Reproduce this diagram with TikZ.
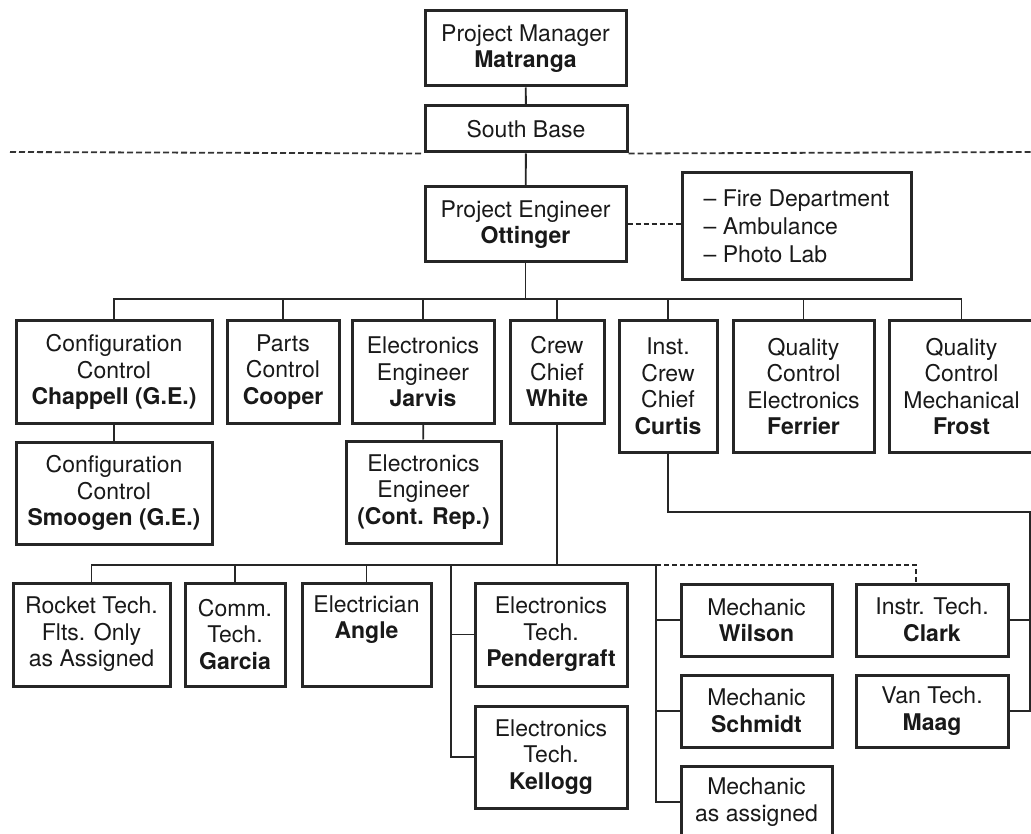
\documentclass[tikz,border=0pt]{standalone}
\usepackage{fontspec}
\setmainfont{TeX Gyre Heros}
\begin{document}
\begin{tikzpicture}[x=1pt,y=-1pt,
  box/.style={draw=black!85, line width=3pt, inner sep=0pt, align=center,
    font=\fontsize{23}{26.5}\selectfont, text=black!90},
  conn/.style={draw=black!85, line width=1.9pt},
  dashconn/.style={draw=black!85, line width=2pt, dash pattern=on 5pt off 3pt},
  divider/.style={draw=black!80, line width=1.8pt, dash pattern=on 6pt off 3pt}]
\fill[white] (0,0) rectangle (1031,834);
\useasboundingbox (0,0) rectangle (1031,834);

% top
\node[box, minimum width=201, minimum height=75] (pm) at (525.5,48.5) {Project Manager\\\textbf{Matranga}};
\node[box, minimum width=202, minimum height=46] (sb) at (526,129) {South Base};
\node[box, minimum width=201, minimum height=75] (pe) at (525.5,224.5) {Project Engineer\\\textbf{Ottinger}};
\node[box, minimum width=229, minimum height=107, align=left, font=\fontsize{23}{28}\selectfont] (fire) at (796.5,226.5) {-- Fire Department\\-- Ambulance\\-- Photo Lab};

% row 1
\node[box, minimum width=196, minimum height=102] (config) at (114,372) {Configuration\\Control\\\textbf{Chappell (G.E.)}};
\node[box, minimum width=112, minimum height=102] (parts) at (283,372) {Parts\\Control\\\textbf{Cooper}};
\node[box, minimum width=142, minimum height=102] (jarvis) at (423,372) {Electronics\\Engineer\\\textbf{Jarvis}};
\node[box, minimum width=94, minimum height=102] (crew) at (557,372) {Crew\\Chief\\\textbf{White}};
\node[box, minimum width=98, minimum height=131] (inst) at (668,386.5) {Inst.\\Crew\\Chief\\\textbf{Curtis}};
\node[box, minimum width=141, minimum height=131] (qce) at (803.5,386.5) {Quality\\Control\\Electronics\\\textbf{Ferrier}};
\node[box, minimum width=145, minimum height=131] (qcm) at (961.5,386.5) {Quality\\Control\\Mechanical\\\textbf{Frost}};

% row 2
\node[box, minimum width=196, minimum height=102] (smoogen) at (114,493) {Configuration\\Control\\\textbf{Smoogen (G.E.)}};
\node[box, minimum width=155, minimum height=102] (contrep) at (423.5,492) {Electronics\\Engineer\\\textbf{(Cont. Rep.)}};

% row 3
\node[box, minimum width=157, minimum height=103] (rocket) at (91.5,634.5) {Rocket Tech.\\Flts. Only\\as Assigned};
\node[box, minimum width=100, minimum height=103] (comm) at (235,634.5) {Comm.\\Tech.\\\textbf{Garcia}};
\node[box, minimum width=129, minimum height=103] (elec) at (366.5,634.5) {Electrician\\\textbf{Angle}\\\strut};
\node[box, minimum width=152, minimum height=103] (pender) at (551,634.5) {Electronics\\Tech.\\\textbf{Pendergraft}};
\node[box, minimum width=152, minimum height=102] (kellogg) at (551,757) {Electronics\\Tech.\\\textbf{Kellogg}};
\node[box, minimum width=151, minimum height=72] (wilson) at (756.5,620) {Mechanic\\\textbf{Wilson}};
\node[box, minimum width=151, minimum height=72] (schmidt) at (756.5,711) {Mechanic\\\textbf{Schmidt}};
\node[box, minimum width=151, minimum height=72] (mechas) at (756.5,802) {Mechanic\\as assigned};
\node[box, minimum width=152, minimum height=72] (clark) at (932,620) {Instr. Tech.\\\textbf{Clark}};
\node[box, minimum width=152, minimum height=72] (maag) at (932,711) {Van Tech.\\\textbf{Maag}};

% connectors top
\draw[conn] (pm) -- (sb);
\draw[conn] (sb) -- (pe);
\coordinate (dl) at (10,152);
\coordinate (dr) at (1031,152);
\draw[divider] (dl) -- (sb.south west);
\draw[divider] (sb.south east) -- (dr);
\draw[dashconn] (pe.east) -- (pe.east -| fire.west);

% bus 1
\coordinate (bus1) at (525.5,299);
\draw[conn] (pe.south) -- (bus1);
\draw[conn] (config.north) |- (bus1) -| (qcm.north);
\draw[conn] (parts.north) -- (parts.north |- bus1);
\draw[conn] (jarvis.north) -- (jarvis.north |- bus1);
\draw[conn] (crew.north) -- (crew.north |- bus1);
\draw[conn] (inst.north) -- (inst.north |- bus1);
\draw[conn] (qce.north) -- (qce.north |- bus1);
\draw[conn] (config) -- (smoogen);
\draw[conn] (jarvis) -- (contrep);

% bus 2
\coordinate (mv) at (656,565);
\coordinate (ev) at (451,565);
\draw[conn] (crew.south) -- (crew.south |- mv);
\draw[conn] (rocket.north) |- (mv);
\draw[conn] (comm.north) -- (comm.north |- mv);
\draw[conn] (elec.north) -- (elec.north |- mv);
\draw[conn] (ev) |- (kellogg.west);
\draw[conn] (pender.west) -- (pender.west -| ev);
\draw[conn] (mv) |- (mechas.west);
\draw[conn] (wilson.west) -- (wilson.west -| mv);
\draw[conn] (schmidt.west) -- (schmidt.west -| mv);
\draw[dashconn] (mv) -| ([xshift=-16pt]clark.north);

% inst crew chief link
\coordinate (rv) at (1030,512);
\draw[conn] (inst.south) |- (rv) |- (maag.east);
\draw[conn] (clark.east) -- (clark.east -| rv);
\end{tikzpicture}
\end{document}
